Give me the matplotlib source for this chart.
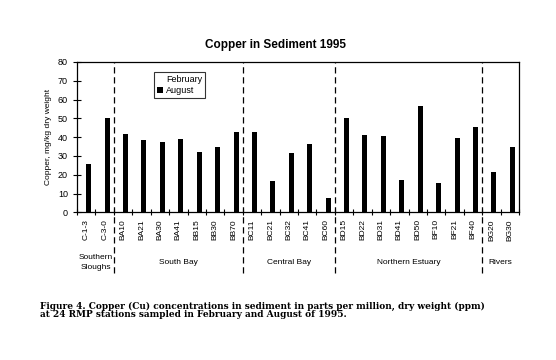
# Copper in Sediment 1995 -- 24 个 RMP 站位，二月 / 八月
import matplotlib.pyplot as plt
import numpy as np

plt.rcParams["font.family"] = ["Liberation Sans", "DejaVu Sans"]

# =========================
# 数据
# =========================
stations = ["C-1-3", "C-3-0", "BA10", "BA21", "BA30", "BA41", "BB15", "BB30",
            "BB70", "BC11", "BC21", "BC32", "BC41", "BC60", "BD15", "BD22",
            "BD31", "BD41", "BD50", "BF10", "BF21", "BF40", "BG20", "BG30"]
february = [0.4, 0.4, 0.4, 0.4, 0.4, 0.4, 0.4, 0.4, 0.4, 0.4, 0.4, 0.4,
            0.4, 0.4, 0.4, 0.4, 0.4, 0.4, 0.4, 0.4, 0.4, 0.4, 0.4, 0.4]
august = [25.5, 50, 41.5, 38.5, 37.5, 39, 32, 35, 42.5, 42.5, 16.5, 31.5,
          36.5, 7.5, 50, 41, 40.8, 17, 56.5, 15.5, 39.5, 45.5, 21.5, 35]
regions = ["Southern\nSloughs", "South Bay", "Central Bay",
           "Northern Estuary", "Rivers"]
region_breaks = [2, 9, 14, 22]   # 区域分界（站位序号）

x = np.arange(len(stations))
w = 0.27

fig = plt.figure(figsize=(5.56, 3.6), dpi=100)
ax = fig.add_axes([0.1385, 0.41, 0.795, 0.418])

ax.bar(x - w / 2, february, w, color="white", edgecolor="black",
       linewidth=0.6, label="February")
ax.bar(x + w / 2, august, w, color="black", label="August")

ax.set_xlim(-0.5, len(stations) - 0.5)
ax.set_ylim(0, 80)
ax.set_yticks(range(0, 81, 10))
ax.set_xticks(x)
ax.set_xticklabels(stations, rotation=90, fontsize=6)
ax.set_xticks(np.arange(-0.5, len(stations), 1), minor=True)
ax.tick_params(axis="x", which="major", length=0, pad=5)
ax.tick_params(axis="x", which="minor", direction="inout", length=5, width=0.8)
ax.tick_params(axis="y", direction="inout", length=6, width=0.8, labelsize=6.5)
for s in ax.spines.values():
    s.set_linewidth(0.9)

ax.set_ylabel("Copper, mg/kg dry weight", fontsize=6)

# 标题（原图略偏左）
fig.text(0.4955, 0.875, "Copper in Sediment 1995", fontsize=8.5,
         fontweight="bold", ha="center", va="center")

# 区域分界虚线
for b in region_breaks:
    ax.axvline(b - 0.5, ymin=-0.4, ymax=1, color="black", linewidth=0.9,
               linestyle=(0, (5, 3)), clip_on=False)

# 区域名称
edges = [0] + region_breaks + [len(stations)]
for i, name in enumerate(regions):
    cx = (edges[i] + edges[i + 1] - 1) / 2
    ax.text(cx, -0.33, name, transform=ax.get_xaxis_transform(),
            ha="center", va="center", fontsize=6, linespacing=1.6)

leg = ax.legend(loc="upper left", bbox_to_anchor=(0.165, 0.96), fontsize=6.5,
                frameon=True, fancybox=False, edgecolor="black",
                handlelength=0.7, handletextpad=0.3, borderpad=0.3,
                labelspacing=0.2)
leg.get_frame().set_linewidth(0.8)
leg.legend_handles[0].set_edgecolor("white")

# 图注
fig.text(0.072, 0.115,
         "Figure 4. Copper (Cu) concentrations in sediment in parts per million, dry weight (ppm)\n"
         "at 24 RMP stations sampled in February and August of 1995.",
         fontsize=6.45, fontweight="bold", family="DejaVu Serif",
         ha="left", va="bottom", linespacing=0.85)

plt.savefig("out.png", dpi=100)
